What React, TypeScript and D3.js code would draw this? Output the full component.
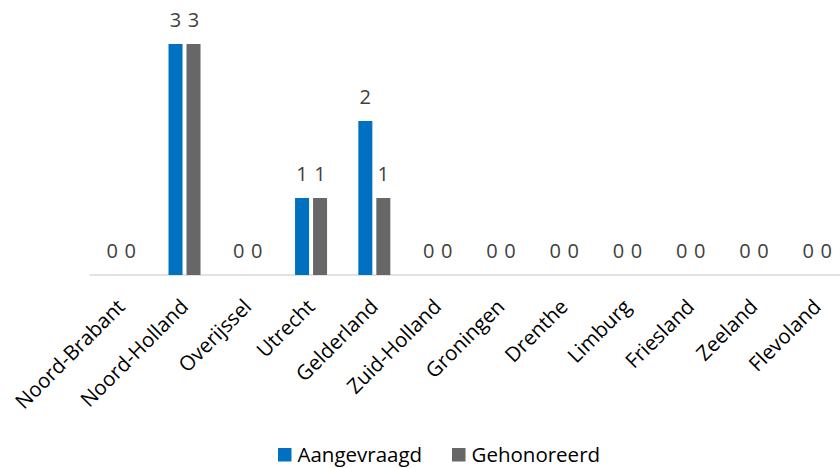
import React from "react";
import * as d3 from "d3";

const categories = [
  "Noord-Brabant",
  "Noord-Holland",
  "Overijssel",
  "Utrecht",
  "Gelderland",
  "Zuid-Holland",
  "Groningen",
  "Drenthe",
  "Limburg",
  "Friesland",
  "Zeeland",
  "Flevoland",
];
const seriesNames = ["Aangevraagd", "Gehonoreerd"];
const aangevraagd = [0, 3, 0, 1, 2, 0, 0, 0, 0, 0, 0, 0];
const gehonoreerd = [0, 3, 0, 1, 1, 0, 0, 0, 0, 0, 0, 0];
const seriesValues = [aangevraagd, gehonoreerd];
const seriesColors = ["#0070C0", "#676767"];

const W = 840;
const H = 468;
const FONT = "'Open Sans', 'DejaVu Sans', sans-serif";

export default function App() {
  const x = d3
    .scaleBand<string>()
    .domain(categories)
    .range([89.6, 848.9])
    .paddingInner(0)
    .paddingOuter(0);
  const groupW = 32;
  const xs = d3
    .scaleBand<string>()
    .domain(seriesNames)
    .range([0, groupW])
    .paddingInner(0.222)
    .paddingOuter(0);
  const y = d3.scaleLinear().domain([0, 3]).range([275, 44]);

  const center = (c: string) => (x(c) as number) + x.bandwidth() / 2;

  return (
    <svg
      width={W}
      height={H}
      style={{ position: "absolute", left: 0, top: 0, display: "block" }}
      fontFamily={FONT}
    >
      <rect x={0} y={0} width={W} height={H} fill="#ffffff" />
      <line
        x1={x.range()[0]}
        x2={W}
        y1={y(0)}
        y2={y(0)}
        stroke="#D9D9D9"
        strokeWidth={1.6}
      />
      {categories.map((c, i) => (
        <g key={c} transform={`translate(${center(c) - groupW / 2},0)`}>
          {seriesNames.map((s, si) => {
            const v = seriesValues[si][i];
            const bx = xs(s) as number;
            const bw = xs.bandwidth();
            return (
              <g key={s}>
                {v > 0 && (
                  <rect
                    x={bx}
                    y={y(v)}
                    width={bw}
                    height={y(0) - y(v)}
                    fill={seriesColors[si]}
                  />
                )}
                <text
                  x={bx + bw / 2}
                  y={y(v) - 17.5}
                  textAnchor="middle"
                  fontSize={20}
                  fill="#404040"
                >
                  {v}
                </text>
              </g>
            );
          })}
        </g>
      ))}
      {categories.map((c) => (
        <text
          key={c}
          transform={`translate(${center(c) + 5},308) rotate(-45)`}
          textAnchor="end"
          fontSize={20.5}
          fill="#000000"
        >
          {c}
        </text>
      ))}
      <g>
        <rect x={278} y={448} width={13.5} height={13.5} fill={seriesColors[0]} />
        <text x={297.5} y={462} fontSize={20.5} fill="#000000">
          {seriesNames[0]}
        </text>
        <rect x={452} y={448} width={13.5} height={13.5} fill={seriesColors[1]} />
        <text x={471.5} y={462} fontSize={20.5} fill="#000000">
          {seriesNames[1]}
        </text>
      </g>
    </svg>
  );
}
